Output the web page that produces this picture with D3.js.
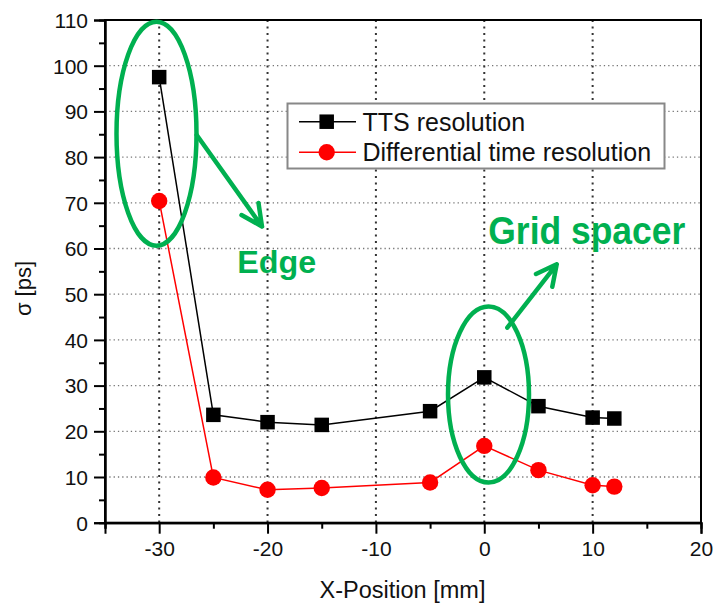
<!DOCTYPE html>
<html>
<head>
<meta charset="utf-8">
<script src="https://cdn.jsdelivr.net/npm/d3@7"></script>
<style>
  html, body { margin: 0; padding: 0; background: #fff; }
  svg { display: block; }
  text { font-family: "Liberation Sans", Arial, sans-serif; }
</style>
</head>
<body>
<svg id="chart" width="715" height="603"></svg>
<script>
// Position scan along the module (mm)
const positions = [-30, -25, -20, -15, -5, 0, 5, 10, 12];
// Transit-time spread resolution (ps)
const ttsValues = [97.5, 23.6, 22.0, 21.4, 24.4, 31.8, 25.5, 23.0, 22.8];
// Differential time resolution (ps)
const diffValues = [70.4, 9.9, 7.2, 7.6, 8.8, 16.8, 11.5, 8.2, 7.9];

const xTicks = [-30, -20, -10, 0, 10, 20];
const yTicks = [0, 10, 20, 30, 40, 50, 60, 70, 80, 90, 100, 110];
const seriesNames = ["TTS resolution", "Differential time resolution"];

const svg = d3.select("#chart");
const plotLeft = 105, plotRight = 701, plotTop = 20, plotBottom = 522.7;

const x = d3.scaleLinear().domain([-35, 20]).range([plotLeft, plotRight]);
const y = d3.scaleLinear().domain([0, 110]).range([plotBottom, plotTop]);

const green = "#00B050";
const plainNumber = d => String(d);

// Grid lines
const grid = svg.append("g");
grid.selectAll("line.h").data(yTicks.filter(v => v > 0 && v < 110)).join("line")
  .attr("x1", plotLeft).attr("x2", plotRight)
  .attr("y1", d => y(d)).attr("y2", d => y(d))
  .attr("stroke", "#777").attr("stroke-width", 1.3).attr("stroke-dasharray", "1.3,3");
grid.selectAll("line.v").data(xTicks.filter(v => v > -35 && v < 20)).join("line")
  .attr("y1", plotTop).attr("y2", plotBottom)
  .attr("x1", d => x(d)).attr("x2", d => x(d))
  .attr("stroke", "#333").attr("stroke-width", 2).attr("stroke-dasharray", "2,4.5");

// Frame
svg.append("rect").attr("x", plotLeft).attr("y", plotTop)
  .attr("width", plotRight - plotLeft).attr("height", plotBottom - plotTop)
  .attr("fill", "none").attr("stroke", "#000").attr("stroke-width", 2);

// Axes
const xAxis = svg.append("g").attr("transform", `translate(0,${plotBottom})`)
  .call(d3.axisBottom(x).tickValues(xTicks).tickSize(11).tickPadding(6).tickFormat(plainNumber));
svg.append("g").attr("transform", `translate(0,${plotBottom})`)
  .call(d3.axisBottom(x).tickValues(d3.range(-35, 20, 5).filter(v => v % 10 !== 0)).tickSize(6).tickFormat(""));
const yAxis = svg.append("g").attr("transform", `translate(${plotLeft},0)`)
  .call(d3.axisLeft(y).tickValues(yTicks).tickSize(11).tickPadding(6).tickFormat(plainNumber));
svg.append("g").attr("transform", `translate(${plotLeft},0)`)
  .call(d3.axisLeft(y).tickValues(d3.range(5, 110, 10)).tickSize(6).tickFormat(""));

svg.selectAll(".domain").attr("stroke", "#000").attr("stroke-width", 2);
svg.selectAll(".tick line").attr("stroke", "#000").attr("stroke-width", 2);
svg.selectAll(".tick text").attr("font-size", 21).attr("fill", "#111")
  .attr("font-family", "'Liberation Sans', Arial, sans-serif");
xAxis.selectAll(".tick text").attr("dy", "0.78em");
yAxis.selectAll(".tick text").attr("dy", "0.35em");

// Axis titles
svg.append("text").attr("x", (315 + 490) / 2).attr("y", 598)
  .attr("text-anchor", "middle").attr("font-size", 23.5).attr("fill", "#111")
  .text("X-Position [mm]");
svg.append("text").attr("transform", `translate(31,${(259 + 318) / 2}) rotate(-90)`)
  .attr("text-anchor", "middle").attr("font-size", 22).attr("fill", "#111")
  .text("σ [ps]");

// Series lines and markers
const tts = positions.map((p, i) => [p, ttsValues[i]]);
const diff = positions.map((p, i) => [p, diffValues[i]]);
const line = d3.line().x(d => x(d[0])).y(d => y(d[1]));

svg.append("path").datum(diff).attr("d", line)
  .attr("fill", "none").attr("stroke", "#ff0000").attr("stroke-width", 1.5);
svg.append("path").datum(tts).attr("d", line)
  .attr("fill", "none").attr("stroke", "#000").attr("stroke-width", 1.5);

const sq = 14.5;
svg.append("g").selectAll("rect").data(tts).join("rect")
  .attr("x", d => x(d[0]) - sq / 2).attr("y", d => y(d[1]) - sq / 2)
  .attr("width", sq).attr("height", sq).attr("fill", "#000");
svg.append("g").selectAll("circle").data(diff).join("circle")
  .attr("cx", d => x(d[0])).attr("cy", d => y(d[1])).attr("r", 8.2)
  .attr("fill", "#ff0000");

// Legend
const lg = svg.append("g");
lg.append("rect").attr("x", 287.5).attr("y", 103.5).attr("width", 377).attr("height", 65)
  .attr("fill", "#fff").attr("stroke", "#888").attr("stroke-width", 2);
const rows = [
  { name: seriesNames[0], color: "#000", shape: "square", yy: 121.7 },
  { name: seriesNames[1], color: "#ff0000", shape: "circle", yy: 152.3 }
];
rows.forEach(r => {
  lg.append("line").attr("x1", 299).attr("x2", 356).attr("y1", r.yy).attr("y2", r.yy)
    .attr("stroke", r.color).attr("stroke-width", 1.5);
  if (r.shape === "square") {
    lg.append("rect").attr("x", 326.7 - 7.25).attr("y", r.yy - 7.25)
      .attr("width", 14.5).attr("height", 14.5).attr("fill", r.color);
  } else {
    lg.append("circle").attr("cx", 326.7).attr("cy", r.yy).attr("r", 8.2).attr("fill", r.color);
  }
  lg.append("text").attr("x", 362.5).attr("y", r.yy).attr("dy", "0.36em")
    .attr("font-size", 25).attr("fill", "#111").text(r.name);
});

// Annotations
const ann = svg.append("g").attr("fill", "none").attr("stroke", green)
  .attr("stroke-width", 4.5).attr("stroke-linecap", "round").attr("stroke-linejoin", "round");
ann.append("ellipse").attr("cx", 156.5).attr("cy", 133.7).attr("rx", 40).attr("ry", 112);
ann.append("ellipse").attr("cx", 488.5).attr("cy", 394.5).attr("rx", 40.5).attr("ry", 88);

ann.append("path").attr("d", "M196.7,135 L262,226.5 M241.5,215 L262,226.5 L258.5,203");
ann.append("path").attr("d", "M507.3,327.7 L556.7,264.3 M536,274 L556.7,264.3 L552.3,286.7");

const annText = svg.append("g").attr("fill", green)
  .attr("font-family", "Lato, 'Open Sans', sans-serif").attr("font-weight", "900");
annText.append("text").attr("x", 237.3).attr("y", 273.3).attr("font-size", 31.5)
  .attr("textLength", 79).attr("lengthAdjust", "spacingAndGlyphs").text("Edge");
annText.append("text").attr("x", 488.3).attr("y", 244.3).attr("font-size", 39)
  .attr("textLength", 197).attr("lengthAdjust", "spacingAndGlyphs").text("Grid spacer");
</script>
</body>
</html>
